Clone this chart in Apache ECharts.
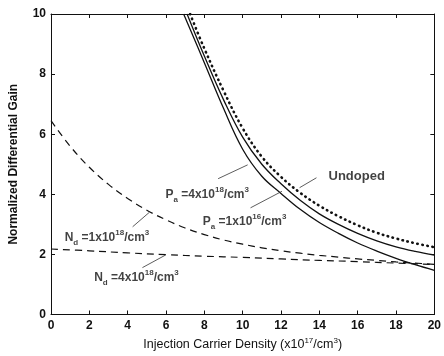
<!DOCTYPE html>
<html>
<head>
<meta charset="utf-8">
<script src="https://cdn.jsdelivr.net/npm/echarts@6/dist/echarts.min.js"></script>
<style>
  html, body { margin: 0; padding: 0; background: #fff; }
  #chart { width: 444px; height: 356px; }
</style>
</head>
<body>
<div id="chart"></div>
<script>
// curve readings (x in 1e17/cm^3, y = normalized differential gain)
const undopedX = [7.26, 8, 9, 10, 11, 12, 13, 14, 15, 16, 17, 18, 19, 20];
const undopedY = [10, 8.85, 7.45, 6.2, 5.25, 4.58, 4.05, 3.62, 3.27, 2.97, 2.72, 2.53, 2.37, 2.24];

const pa16X = [7.1, 8, 9, 10, 11, 12, 13, 14, 15, 16, 17, 18, 19, 20];
const pa16Y = [10, 8.6, 7.15, 5.9, 5.0, 4.35, 3.8, 3.35, 3.0, 2.7, 2.45, 2.25, 2.1, 1.98];

const pa18X = [6.92, 8, 9, 10, 11, 12, 13, 14, 15, 16, 17, 18, 19, 20];
const pa18Y = [10, 8.38, 6.86, 5.5, 4.6, 4.03, 3.5, 3.06, 2.7, 2.38, 2.11, 1.87, 1.66, 1.47];

const nd18X = [0, 1, 2, 3, 4, 5, 6, 7, 8, 9, 10, 11, 12, 13, 14, 15, 16, 17, 18, 19, 20];
const nd18Y = [6.45, 5.6, 4.9, 4.33, 3.86, 3.47, 3.15, 2.88, 2.66, 2.48, 2.34, 2.22, 2.12, 2.04, 1.97, 1.91, 1.85, 1.8, 1.75, 1.71, 1.67];

const nd4X = [0, 2, 4, 6, 8, 10, 12, 14, 16, 18, 20];
const nd4Y = [2.18, 2.12, 2.05, 1.99, 1.94, 1.9, 1.85, 1.8, 1.76, 1.71, 1.66];

// annotation texts and anchor points (data coords)
const noteTexts = [
  '{t|P}{sub|a}{t| =4x10}{sup|18}{t|/cm}{sup|3}',
  '{t|P}{sub|a}{t| =1x10}{sup|16}{t|/cm}{sup|3}',
  '{u|Undoped}',
  '{t|N}{sub|d}{t| =1x10}{sup|18}{t|/cm}{sup|3}',
  '{t|N}{sub|d}{t| =4x10}{sup|18}{t|/cm}{sup|3}'
];
const noteX = [8.15, 10.1, 15.95, 2.92, 4.46];
const noteY = [3.98, 3.1, 4.58, 2.56, 1.23];

const arrowFrom = [[8.72, 4.52], [10.41, 3.55], [13.85, 4.55], [4.26, 2.92], [4.77, 1.56]];
const arrowTo = [[10.26, 4.98], [12.05, 4.1], [12.97, 4.22], [5.13, 3.4], [5.98, 1.98]];

const xTickMin = 0, xTickMax = 20, xTickStep = 2;
const yTickMin = 0, yTickMax = 10, yTickStep = 2;

const ink = '#111';
const font = 'Liberation Sans, Arial, sans-serif';

const zip = (xs, ys) => xs.map((x, i) => [x, ys[i]]);

const richText = {
  t: { fontFamily: font, fontSize: 12, fontWeight: 'bold', color: ink, lineHeight: 18, verticalAlign: 'middle' },
  sub: { fontFamily: font, fontSize: 8, fontWeight: 'bold', color: ink, lineHeight: 9, verticalAlign: 'bottom' },
  sup: { fontFamily: font, fontSize: 8, fontWeight: 'bold', color: ink, lineHeight: 9, verticalAlign: 'top' },
  u: { fontFamily: font, fontSize: 13, fontWeight: 'bold', color: ink, lineHeight: 18 }
};

const axisLineStyle = { color: ink, width: 1 };
const tickStyle = { show: true, inside: true, length: 4, lineStyle: { color: ink, width: 1 } };

const chart = echarts.init(document.getElementById('chart'), null, { renderer: 'canvas' });

const curve = (name, data, lineStyle) => ({
  name,
  type: 'line',
  data,
  smooth: 0.4,
  symbol: 'none',
  lineStyle,
  clip: true,
  silent: true,
  z: 3
});

chart.setOption({
  animation: false,
  backgroundColor: '#fff',
  grid: { left: 50, right: 4, top: 14, bottom: 41, containLabel: false },
  xAxis: [
    {
      type: 'value',
      position: 'bottom',
      min: xTickMin, max: xTickMax, interval: xTickStep,
      axisLine: { show: true, onZero: false, lineStyle: axisLineStyle },
      axisTick: tickStyle,
      splitLine: { show: false },
      axisLabel: { color: ink, fontFamily: font, fontSize: 12, fontWeight: 'bold', margin: 5 },
      name: '{n|Injection Carrier Density (x10}{s|17}{n|/cm}{s|3}{n|)}',
      nameLocation: 'middle',
      nameGap: 22,
      nameTextStyle: {
        rich: {
          n: { fontFamily: font, fontSize: 12.5, color: ink, lineHeight: 16, verticalAlign: 'middle' },
          s: { fontFamily: font, fontSize: 8, color: ink, lineHeight: 8, verticalAlign: 'top' }
        }
      }
    },
    {
      type: 'value',
      position: 'top',
      min: xTickMin, max: xTickMax, interval: xTickStep,
      axisLine: { show: true, onZero: false, lineStyle: axisLineStyle },
      axisTick: tickStyle,
      splitLine: { show: false },
      axisLabel: { show: false }
    }
  ],
  yAxis: [
    {
      type: 'value',
      position: 'left',
      min: yTickMin, max: yTickMax, interval: yTickStep,
      axisLine: { show: true, onZero: false, lineStyle: axisLineStyle },
      axisTick: tickStyle,
      splitLine: { show: false },
      axisLabel: { color: ink, fontFamily: font, fontSize: 12, fontWeight: 'bold', margin: 5 },
      name: 'Normalized Differential Gain',
      nameLocation: 'middle',
      nameGap: 31,
      nameTextStyle: { color: ink, fontFamily: font, fontSize: 12, fontWeight: 'bold' }
    },
    {
      type: 'value',
      position: 'right',
      min: yTickMin, max: yTickMax, interval: yTickStep,
      axisLine: { show: true, onZero: false, lineStyle: axisLineStyle },
      axisTick: tickStyle,
      splitLine: { show: false },
      axisLabel: { show: false }
    }
  ],
  series: [
    curve('Undoped', zip(undopedX, undopedY), { color: ink, width: 2.6, type: [0.5, 4.6], cap: 'round' }),
    curve('Pa=1e16', zip(pa16X, pa16Y), { color: ink, width: 1.3 }),
    curve('Pa=4e18', zip(pa18X, pa18Y), { color: ink, width: 1.3 }),
    curve('Nd=1e18', zip(nd18X, nd18Y), { color: ink, width: 1.2, type: [7, 5] }),
    curve('Nd=4e18', zip(nd4X, nd4Y), { color: ink, width: 1.2, type: [7, 5] }),
    {
      name: 'notes',
      type: 'scatter',
      silent: true,
      symbolSize: 0,
      z: 5,
      data: noteTexts.map((txt, i) => ({
        value: [noteX[i], noteY[i]],
        label: {
          show: true,
          position: 'inside',
          formatter: txt,
          rich: richText
        }
      })),
      markLine: {
        silent: true,
        animation: false,
        symbol: ['none', 'arrow'],
        symbolSize: [0, 6],
        label: { show: false },
        lineStyle: { color: '#333', width: 0.8, type: 'solid' },
        emphasis: { disabled: true },
        data: arrowFrom.map((p, i) => [{ coord: p }, { coord: arrowTo[i] }])
      }
    }
  ]
});
</script>
</body>
</html>
